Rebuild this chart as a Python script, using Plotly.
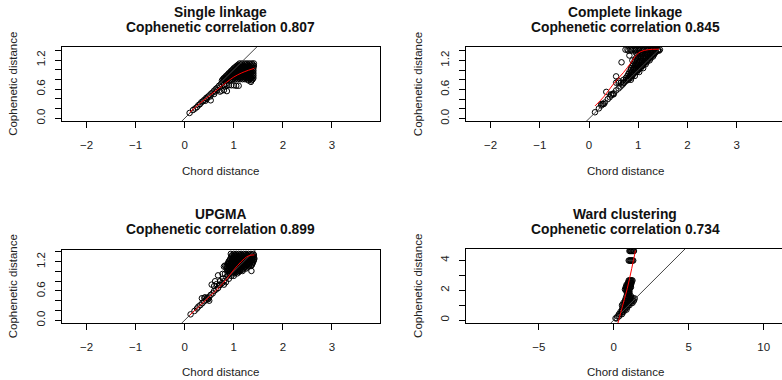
import plotly.graph_objects as go

# ---------------- data ----------------
titles = ["Single linkage", "Complete linkage", "UPGMA", "Ward clustering"]
correlations = ["0.807", "0.845", "0.899", "0.734"]
x_label = "Chord distance"
y_label = "Cophenetic distance"

single_pts = [
    (0.10,0.11),(0.17,0.17),(0.21,0.20),(0.25,0.23),(0.28,0.27),(0.31,0.29),(0.34,0.33),(0.37,0.35),
    (0.40,0.38),(0.42,0.36),(0.44,0.42),(0.47,0.44),(0.50,0.47),(0.52,0.45),(0.54,0.51),(0.57,0.53),
    (0.60,0.57),(0.62,0.55),(0.64,0.61),(0.67,0.63),(0.70,0.67),(0.72,0.64),(0.74,0.71),(0.77,0.74),
    (0.80,0.78),(0.83,0.81),(0.86,0.84),(0.89,0.87),(0.92,0.90),(0.95,0.93),(0.98,0.96),(1.01,0.99),
    (1.04,1.02),(1.07,1.05),(1.10,1.08),
    (0.53,0.37),(0.72,0.55),(0.75,0.57),(0.80,0.58),(0.86,0.56),(0.82,0.66),(0.86,0.68),(0.90,0.68),
    (0.95,0.68),(1.00,0.68),(1.05,0.67),(1.10,0.67),(0.80,0.70),(1.35,0.75),(1.38,0.80),(0.60,0.50),
    (0.66,0.58),(0.45,0.40),
]
single_blob = [
    (1.12,1.13),(1.17,1.13),(1.22,1.13),(1.27,1.13),(1.32,1.13),(1.37,1.13),(1.41,1.13),
    (1.09,1.105),(1.14,1.105),(1.19,1.105),(1.24,1.105),(1.29,1.105),(1.34,1.105),(1.39,1.105),
    (1.06,1.08),(1.11,1.08),(1.16,1.08),(1.21,1.08),(1.26,1.08),(1.31,1.08),(1.36,1.08),(1.41,1.08),
    (1.03,1.055),(1.08,1.055),(1.13,1.055),(1.18,1.055),(1.23,1.055),(1.28,1.055),(1.33,1.055),(1.38,1.055),
    (1.00,1.03),(1.05,1.03),(1.10,1.03),(1.15,1.03),(1.20,1.03),(1.25,1.03),(1.30,1.03),(1.35,1.03),(1.40,1.03),
    (0.98,1.005),(1.03,1.005),(1.08,1.005),(1.13,1.005),(1.18,1.005),(1.23,1.005),(1.28,1.005),(1.33,1.005),(1.38,1.005),
    (0.95,0.98),(1.00,0.98),(1.05,0.98),(1.10,0.98),(1.15,0.98),(1.20,0.98),(1.25,0.98),(1.30,0.98),(1.35,0.98),(1.40,0.98),
    (0.93,0.955),(0.98,0.955),(1.03,0.955),(1.08,0.955),(1.13,0.955),(1.18,0.955),(1.23,0.955),(1.28,0.955),(1.33,0.955),(1.38,0.955),
    (0.90,0.93),(0.95,0.93),(1.00,0.93),(1.05,0.93),(1.10,0.93),(1.15,0.93),(1.20,0.93),(1.25,0.93),(1.30,0.93),(1.35,0.93),(1.40,0.93),
    (0.88,0.905),(0.93,0.905),(0.98,0.905),(1.03,0.905),(1.08,0.905),(1.13,0.905),(1.18,0.905),(1.23,0.905),(1.28,0.905),(1.33,0.905),(1.38,0.905),
    (0.85,0.88),(0.90,0.88),(0.95,0.88),(1.00,0.88),(1.05,0.88),(1.10,0.88),(1.15,0.88),(1.20,0.88),(1.25,0.88),(1.30,0.88),(1.35,0.88),(1.40,0.88),
    (0.83,0.855),(0.88,0.855),(0.93,0.855),(0.98,0.855),(1.03,0.855),(1.08,0.855),(1.13,0.855),(1.18,0.855),(1.23,0.855),(1.28,0.855),(1.33,0.855),(1.38,0.855),
    (0.80,0.83),(0.85,0.83),(0.90,0.83),(0.95,0.83),(1.00,0.83),(1.05,0.83),(1.10,0.83),(1.15,0.83),(1.20,0.83),(1.25,0.83),(1.30,0.83),(1.35,0.83),(1.40,0.83),
    (0.78,0.805),(0.83,0.805),(0.88,0.805),(0.93,0.805),(0.98,0.805),(1.03,0.805),(1.08,0.805),(1.13,0.805),(1.18,0.805),(1.23,0.805),(1.28,0.805),(1.33,0.805),(1.38,0.805),
    (0.76,0.78),(0.81,0.78),(0.86,0.78),(0.92,0.78),(1.30,0.78),(1.36,0.78),
]
single_smooth_x = [0.10, 0.30, 0.50, 0.70, 0.85, 1.00, 1.15, 1.30, 1.42]
single_smooth_y = [0.12, 0.30, 0.46, 0.62, 0.74, 0.85, 0.93, 0.99, 1.03]

complete_pts = [
    (0.12,0.13),(0.20,0.21),(0.25,0.27),(0.28,0.30),(0.32,0.33),(0.38,0.40),(0.42,0.44),(0.45,0.48),
    (0.48,0.50),(0.50,0.52),(0.55,0.58),(0.60,0.62),(0.64,0.66),(0.68,0.70),(0.70,0.73),(0.72,0.75),
    (0.76,0.78),(0.80,0.82),(0.84,0.86),(0.88,0.90),(0.92,0.94),(0.96,0.98),(1.00,1.02),(1.04,1.06),
    (1.08,1.10),(1.12,1.14),(1.16,1.18),(1.20,1.22),(1.24,1.26),(1.28,1.30),(1.32,1.34),(1.36,1.38),(1.40,1.41),
    (0.55,0.74),(0.60,0.74),(0.65,0.74),(0.70,0.74),
    (0.45,0.50),(0.50,0.50),(0.25,0.30),(0.30,0.30),
    (0.66,1.16),(0.35,0.55),(0.55,0.87),(0.60,0.78),(0.82,1.30),
]
complete_blob = [
    (0.74,1.42),(0.78,1.42),(0.84,1.42),(0.88,1.42),(0.92,1.42),(0.96,1.42),(1.00,1.42),(1.04,1.42),(1.08,1.42),
    (1.12,1.42),(1.16,1.42),(1.20,1.42),(1.24,1.42),(1.28,1.42),(1.32,1.42),(1.36,1.42),(1.40,1.42),(1.44,1.42),
    (0.80,1.40),(0.86,1.40),(0.94,1.40),(1.02,1.40),(1.10,1.40),(1.18,1.40),(1.26,1.40),(1.34,1.40),(1.42,1.40),
    (0.95,1.36),(1.00,1.36),(1.05,1.36),(1.10,1.36),(1.15,1.36),(1.20,1.36),(1.25,1.36),(1.30,1.36),(1.35,1.36),
    (0.98,1.32),(1.03,1.32),(1.08,1.32),(1.13,1.32),(1.18,1.32),(1.23,1.32),(1.28,1.32),(1.32,1.32),
    (1.00,1.28),(1.05,1.28),(1.10,1.28),(1.15,1.28),(1.20,1.28),(1.25,1.28),(1.30,1.28),
    (0.95,1.24),(1.00,1.24),(1.05,1.24),(1.10,1.24),(1.15,1.24),(1.20,1.24),(1.25,1.24),
    (0.88,1.20),(0.93,1.20),(0.98,1.20),(1.03,1.20),(1.08,1.20),(1.13,1.20),(1.18,1.20),(1.23,1.20),
    (0.92,1.16),(0.97,1.16),(1.02,1.16),(1.07,1.16),(1.12,1.16),(1.17,1.16),
    (0.90,1.12),(0.95,1.12),(1.00,1.12),(1.05,1.12),(1.10,1.12),(1.15,1.12),
    (0.88,1.08),(0.93,1.08),(0.98,1.08),(1.03,1.08),(1.08,1.08),
    (0.85,1.04),(0.90,1.04),(0.95,1.04),(1.00,1.04),(1.05,1.04),(1.10,1.04),
    (0.85,1.00),(0.90,1.00),(0.95,1.00),(1.00,1.00),
    (0.82,0.96),(0.87,0.96),(0.92,0.96),(0.97,0.96),(1.02,0.96),
    (0.80,0.92),(0.85,0.92),(0.90,0.92),
    (0.78,0.88),(0.83,0.88),(0.88,0.88),(0.93,0.88),
    (0.75,0.84),(0.80,0.84),(0.85,0.84),
    (0.70,0.80),(0.75,0.80),(0.80,0.80),(0.85,0.80),
]
complete_smooth_x = [0.12, 0.30, 0.50, 0.70, 0.85, 0.95, 1.05, 1.20, 1.42]
complete_smooth_y = [0.26, 0.45, 0.72, 0.95, 1.15, 1.30, 1.38, 1.42, 1.43]

upgma_pts = [
    (0.12,0.12),(0.20,0.19),(0.25,0.24),(0.28,0.28),(0.32,0.31),(0.36,0.35),(0.40,0.39),(0.44,0.42),
    (0.47,0.45),(0.50,0.48),(0.53,0.52),(0.57,0.55),(0.60,0.60),(0.64,0.63),(0.68,0.66),(0.72,0.72),
    (0.76,0.76),(0.80,0.80),
    (0.40,0.46),(0.45,0.45),(0.48,0.43),(0.50,0.40),(0.35,0.45),(0.42,0.47),
    (0.55,0.73),(0.60,0.70),(0.65,0.74),(0.70,0.72),(0.72,0.80),(0.78,0.85),(0.80,0.73),(0.84,0.78),
    (0.77,0.95),(0.82,0.95),(0.85,0.88),(0.88,0.92),(0.90,0.85),(0.62,0.80),(0.68,0.92),(0.80,1.10),(0.82,1.12),
    (0.94,1.36),(1.36,1.01),
]
upgma_blob = [
    (1.00,1.36),(1.05,1.36),(1.10,1.36),(1.15,1.36),(1.20,1.36),(1.25,1.36),(1.30,1.36),(1.35,1.36),(1.40,1.36),
    (0.97,1.335),(1.02,1.335),(1.07,1.335),(1.12,1.335),(1.17,1.335),(1.22,1.335),(1.27,1.335),(1.32,1.335),(1.37,1.335),(1.41,1.335),
    (0.95,1.31),(1.00,1.31),(1.05,1.31),(1.10,1.31),(1.15,1.31),(1.20,1.31),(1.25,1.31),(1.30,1.31),(1.35,1.31),(1.40,1.31),
    (0.96,1.285),(1.01,1.285),(1.06,1.285),(1.11,1.285),(1.16,1.285),(1.21,1.285),(1.26,1.285),(1.31,1.285),(1.36,1.285),(1.41,1.285),
    (0.93,1.26),(0.98,1.26),(1.03,1.26),(1.08,1.26),(1.13,1.26),(1.18,1.26),(1.23,1.26),(1.28,1.26),(1.33,1.26),(1.38,1.26),(1.42,1.26),
    (0.92,1.235),(0.97,1.235),(1.02,1.235),(1.07,1.235),(1.12,1.235),(1.17,1.235),(1.22,1.235),(1.27,1.235),(1.32,1.235),(1.37,1.235),(1.41,1.235),
    (0.90,1.21),(0.95,1.21),(1.00,1.21),(1.05,1.21),(1.10,1.21),(1.15,1.21),(1.20,1.21),(1.25,1.21),(1.30,1.21),(1.35,1.21),(1.40,1.21),
    (0.89,1.185),(0.94,1.185),(0.99,1.185),(1.04,1.185),(1.09,1.185),(1.14,1.185),(1.19,1.185),(1.24,1.185),(1.29,1.185),(1.34,1.185),(1.39,1.185),
    (0.88,1.16),(0.93,1.16),(0.98,1.16),(1.03,1.16),(1.08,1.16),(1.13,1.16),(1.18,1.16),(1.23,1.16),(1.28,1.16),(1.33,1.16),(1.38,1.16),
    (0.87,1.135),(0.92,1.135),(0.97,1.135),(1.02,1.135),(1.07,1.135),(1.12,1.135),(1.17,1.135),(1.22,1.135),(1.27,1.135),(1.32,1.135),(1.37,1.135),
    (0.85,1.11),(0.90,1.11),(0.95,1.11),(1.00,1.11),(1.05,1.11),(1.10,1.11),(1.15,1.11),(1.20,1.11),(1.25,1.11),(1.30,1.11),(1.35,1.11),
    (0.87,1.085),(0.92,1.085),(0.97,1.085),(1.02,1.085),(1.07,1.085),(1.12,1.085),(1.17,1.085),(1.22,1.085),(1.27,1.085),
    (0.85,1.06),(0.90,1.06),(0.95,1.06),(1.00,1.06),(1.05,1.06),(1.10,1.06),(1.15,1.06),(1.20,1.06),(1.25,1.06),
    (0.87,1.035),(0.92,1.035),(0.97,1.035),(1.02,1.035),(1.07,1.035),(1.12,1.035),(1.17,1.035),
    (0.88,1.01),(0.93,1.01),(0.98,1.01),(1.03,1.01),(1.08,1.01),(1.13,1.01),(1.18,1.01),
    (0.90,0.985),(0.95,0.985),(1.00,0.985),(1.05,0.985),(1.10,0.985),
    (0.92,0.96),(0.97,0.96),(1.02,0.96),(1.07,0.96),(0.95,0.91),(1.00,0.91),
]
upgma_smooth_x = [0.10, 0.30, 0.50, 0.70, 0.85, 1.00, 1.15, 1.30, 1.42]
upgma_smooth_y = [0.10, 0.29, 0.48, 0.67, 0.84, 1.03, 1.20, 1.32, 1.34]

ward_pts = [
    (0.60,0.85),(0.70,0.85),(0.80,0.85),(0.90,0.85),
    (0.55,0.70),(0.65,0.70),(0.75,0.70),(0.85,0.70),
    (0.45,0.55),(0.55,0.55),(0.65,0.55),
    (0.35,0.40),(0.45,0.40),(0.55,0.40),
    (0.25,0.25),(0.35,0.25),(0.12,0.12),(0.20,0.12),
]
ward_blob = [
    (1.05,4.62),(1.10,4.62),(1.15,4.62),(1.20,4.62),(1.25,4.62),(1.30,4.62),(1.35,4.62),
    (1.00,3.98),(1.05,3.98),(1.10,3.98),(1.15,3.98),(1.20,3.98),(1.25,3.98),(1.30,3.98),
    (1.00,2.65),(1.05,2.65),(1.10,2.65),(1.15,2.65),(1.20,2.65),(1.25,2.65),
    (0.95,2.50),(1.00,2.50),(1.05,2.50),(1.10,2.50),(1.15,2.50),(1.20,2.50),
    (0.85,2.35),(0.90,2.35),(0.95,2.35),(1.00,2.35),(1.05,2.35),(1.10,2.35),(1.15,2.35),
    (0.80,2.20),(0.85,2.20),(0.90,2.20),(0.95,2.20),(1.00,2.20),(1.05,2.20),(1.10,2.20),(1.15,2.20),
    (0.75,2.05),(0.80,2.05),(0.85,2.05),(0.90,2.05),(0.95,2.05),(1.00,2.05),(1.05,2.05),
    (0.85,1.90),(0.90,1.90),(0.95,1.90),(1.00,1.90),(1.05,1.90),
    (0.90,1.75),(0.95,1.75),(1.00,1.75),(1.05,1.75),
    (0.85,1.60),(0.95,1.60),(1.05,1.60),(1.15,1.60),
    (0.80,1.45),(0.90,1.45),(1.00,1.45),(1.10,1.45),(1.20,1.45),(1.30,1.45),(1.40,1.45),
    (0.75,1.30),(0.85,1.30),(0.95,1.30),(1.05,1.30),(1.15,1.30),(1.25,1.30),(1.35,1.30),
    (0.65,1.15),(0.75,1.15),(0.85,1.15),(0.95,1.15),(1.05,1.15),(1.15,1.15),(1.25,1.15),
    (0.55,1.00),(0.65,1.00),(0.75,1.00),(0.85,1.00),(0.95,1.00),(1.05,1.00),
]
ward_smooth_x = [0.28, 0.60, 0.90, 1.20, 1.45]
ward_smooth_y = [-0.20, 1.00, 2.10, 3.45, 4.65]

x_ranges = [[-2.5, 3.98], [-2.5, 3.92], [-2.5, 3.98], [-9.85, 11.22]]
y_ranges = [[-0.057, 1.477], [-0.057, 1.477], [-0.06, 1.45], [-0.2, 4.77]]
x_ticks = [[-2, -1, 0, 1, 2, 3]] * 3 + [[-5, 0, 5, 10]]
y_ticks_small = [0.0, 0.2, 0.4, 0.6, 0.8, 1.0, 1.2, 1.4]
y_ticklabels_small = ["0.0", "", "", "0.6", "", "", "1.2", ""]
y_ticks_ward = [0, 1, 2, 3, 4]
y_ticklabels_ward = ["0", "", "2", "", "4"]

# ---------------- figure ----------------
W, H = 782, 380
FONT = "Liberation Sans, Arial, sans-serif"
panels_pts = [single_pts + single_blob, complete_pts + complete_blob,
              upgma_pts + upgma_blob, ward_pts + ward_blob]
smooth_xs = [single_smooth_x, complete_smooth_x, upgma_smooth_x, ward_smooth_x]
smooth_ys = [single_smooth_y, complete_smooth_y, upgma_smooth_y, ward_smooth_y]

# box positions in pixels (left, right, top, bottom)
boxes = [(62, 380, 47, 122), (466, 782, 47.3, 122.3), (62, 380, 251.5, 325.7), (466, 782, 250.7, 325.7)]
title_y = [(12.8, 27.8), (12.8, 27.8), (216.0, 231.0), (216.0, 231.0)]
xlab_y = [172, 172, 375, 375]
ylab_x = [13, 418, 13, 418]
title_cx = [221, 625, 221, 625]

fig = go.Figure()
layout = dict(width=W, height=H, margin=dict(l=0, r=0, t=0, b=0), autosize=False,
              plot_bgcolor="white", paper_bgcolor="white", showlegend=False,
              font=dict(family=FONT, size=11.5, color="#111"))
annotations = []
for i in range(4):
    ax = "" if i == 0 else str(i + 1)
    l, r, t, b = boxes[i]
    pts = panels_pts[i]
    px = [p[0] for p in pts]
    py = [p[1] for p in pts]
    fig.add_trace(go.Scatter(x=px, y=py, mode="markers", xaxis="x" + ax, yaxis="y" + ax,
                             marker=dict(symbol="circle-open", size=5.5, color="black",
                                         line=dict(width=1, color="black")),
                             hoverinfo="skip"))
    # y = x reference line across the axis range
    lo = min(x_ranges[i][0], y_ranges[i][0])
    hi = max(x_ranges[i][1], y_ranges[i][1])
    fig.add_trace(go.Scatter(x=[lo, hi], y=[lo, hi], mode="lines", xaxis="x" + ax, yaxis="y" + ax,
                             line=dict(color="#444", width=1), hoverinfo="skip"))
    fig.add_trace(go.Scatter(x=smooth_xs[i], y=smooth_ys[i], mode="lines", xaxis="x" + ax, yaxis="y" + ax,
                             line=dict(color="red", width=1, shape="spline"), hoverinfo="skip"))
    right_panel = i in (1, 3)
    layout["xaxis" + ax] = dict(domain=[l / W, min(r / W, 1.0)], range=x_ranges[i], anchor="y" + ax,
                                tickvals=x_ticks[i], ticks="outside", ticklen=6, tickwidth=1, tickcolor="black",
                                showline=True, linecolor="black", linewidth=1, mirror=True,
                                showgrid=False, zeroline=False, ticklabelstandoff=7,
                                tickfont=dict(size=11.5, color="#222"))
    yt = y_ticks_ward if i == 3 else y_ticks_small
    ytt = y_ticklabels_ward if i == 3 else y_ticklabels_small
    layout["yaxis" + ax] = dict(domain=[1 - b / H, 1 - t / H], range=y_ranges[i], anchor="x" + ax,
                                tickvals=yt, ticktext=ytt, ticks="outside", ticklen=6, tickwidth=1,
                                tickcolor="black", tickangle=-90,
                                showline=True, linecolor="black", linewidth=1, mirror=not right_panel,
                                showgrid=False, zeroline=False, ticklabelstandoff=5,
                                tickfont=dict(size=11.5, color="#222"))
    annotations.append(dict(text="<b>" + titles[i] + "</b>", x=title_cx[i] / W, y=1 - title_y[i][0] / H,
                            xref="paper", yref="paper", showarrow=False, xanchor="center", yanchor="middle",
                            borderpad=0, font=dict(size=13.8, color="#111", family=FONT)))
    annotations.append(dict(text="<b>Cophenetic correlation " + correlations[i] + "</b>", x=title_cx[i] / W,
                            y=1 - title_y[i][1] / H, xref="paper", yref="paper", showarrow=False,
                            xanchor="center", yanchor="middle", borderpad=0,
                            font=dict(size=13.8, color="#111", family=FONT)))
    annotations.append(dict(text=x_label, x=title_cx[i] / W, y=1 - xlab_y[i] / H, xref="paper", yref="paper",
                            showarrow=False, xanchor="center", yanchor="middle",
                            font=dict(size=11.5, color="#222", family=FONT)))
    annotations.append(dict(text=y_label, x=ylab_x[i] / W, y=1 - ((t + b) / 2) / H, xref="paper", yref="paper",
                            showarrow=False, xanchor="center", yanchor="middle", textangle=-90,
                            font=dict(size=11.5, color="#222", family=FONT)))
layout["annotations"] = annotations
fig.update_layout(**layout)
fig.write_html("out.html", config={"displayModeBar": False, "staticPlot": True},
               post_script="document.body.style.margin='0';document.body.style.padding='0';"
                           "document.body.style.overflow='hidden';")
